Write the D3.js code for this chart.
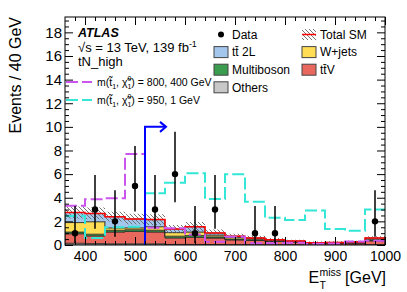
<!DOCTYPE html>
<html>
<head>
<meta charset="utf-8">
<script src="https://cdn.jsdelivr.net/npm/d3@7"></script>
<style>
    body { margin: 0; background: #fff; }
    svg { display: block; font-family: "Liberation Sans", Arial, Helvetica, sans-serif; }
</style>
</head>
<body>
<svg id="chart"></svg>
<script>
// Bin edges in ETmiss [GeV]
const binEdges = [360, 400, 440, 480, 520, 560, 600, 640, 680, 720, 760, 800, 840, 880, 920, 960, 1000];

// Background stack, bottom to top
const others     = [0.15, 0.12, 0.10, 0.10, 0.10, 0.05, 0.05, 0.04, 0.03, 0.03, 0.02, 0.02, 0.01, 0.01, 0.01, 0.03];
const ttV        = [0.80, 0.65, 1.00, 1.05, 1.00, 0.55, 0.60, 0.55, 0.40, 0.35, 0.28, 0.20, 0.12, 0.13, 0.15, 0.32];
const multiboson = [0.15, 0.15, 0.15, 0.15, 0.15, 0.15, 0.15, 0.10, 0.08, 0.07, 0.05, 0.04, 0.03, 0.03, 0.03, 0.07];
const wjets      = [0.80, 1.05, 0.20, 0.15, 0.30, 0.30, 0.30, 0.15, 0.12, 0.08, 0.05, 0.04, 0.02, 0.03, 0.03, 0.08];
const tt2L       = [0.85, 0.70, 0.95, 0.75, 0.60, 0.30, 0.45, 0.18, 0.12, 0.07, 0.05, 0.03, 0.02, 0.02, 0.03, 0.10];
const totalErr   = [0.50, 0.50, 0.42, 0.45, 0.45, 0.35, 0.40, 0.30, 0.20, 0.18, 0.15, 0.12, 0.10, 0.10, 0.10, 0.15];

// Signal points
const sig800 = [3.33, 3.87, 3.95, 7.70, 1.45, 1.42, 0.88, 0.28, 0.70, 0.14, 0.15, 0.20, 0.10, 0.12, 0.30, 0.35];
const sig950 = [2.45, 0.60, 1.50, 1.55, 4.38, 5.28, 6.07, 3.90, 5.99, 3.67, 2.30, 2.12, 2.92, 1.36, 1.20, 3.00];

// Data with asymmetric (Poisson) error bars
const dataCounts = [1, 3, 2, 5, 3, 6, 1, 3, 0, 1, 1, 0, 0, 0, 0, 2];
const dataLow    = [0.173, 1.367, 0.708, 2.840, 1.367, 3.620, 0.173, 1.367, 0, 0.173, 0.173, 0, 0, 0, 0, 0.708];
const dataHigh   = [3.300, 5.918, 4.638, 8.382, 5.918, 9.584, 3.300, 5.918, 0, 3.300, 3.300, 0, 0, 0, 0, 4.638];

// Axis ticks
const xMajor = [400, 500, 600, 700, 800, 900, 1000];
const xMinor = [380, 420, 440, 460, 480, 520, 540, 560, 580, 620, 640, 660, 680, 720, 740, 760, 780,
                820, 840, 860, 880, 920, 940, 960, 980];
const yMajor = [0, 2, 4, 6, 8, 10, 12, 14, 16, 18];
const yMinor = [0.5, 1, 1.5, 2.5, 3, 3.5, 4.5, 5, 5.5, 6.5, 7, 7.5, 8.5, 9, 9.5, 10.5, 11, 11.5,
                12.5, 13, 13.5, 14.5, 15, 15.5, 16.5, 17, 17.5, 18.5, 19];

// Cut position and arrow
const cutValue = 520;
const cutHeight = 10;
const cutArrowEnd = 562;

const colors = {
    others: "#c8c8c8",
    ttV: "#e8685e",
    multiboson: "#3a9c4e",
    wjets: "#ffdd55",
    tt2L: "#a3c6ec",
    sig800: "#cc55ee",
    sig950: "#33e6d6",
};

const width = 407;
const height = 292;
const margin = { top: 17, right: 22, bottom: 47, left: 65 };

const svg = d3.select("#chart").attr("width", width).attr("height", height);

const x = d3.scaleLinear().domain([360, 1000]).range([margin.left, width - margin.right]);
const y = d3.scaleLinear().domain([0, 19.3]).range([height - margin.bottom, margin.top]);

// hatch pattern for uncertainty
const defs = svg.append("defs");
defs.append("pattern")
    .attr("id", "hatch")
    .attr("patternUnits", "userSpaceOnUse")
    .attr("width", 4)
    .attr("height", 4)
    .append("path")
    .attr("d", "M-1,-1 L5,5 M3,-1 L5,1 M-1,3 L1,5")
    .attr("stroke", "#666")
    .attr("stroke-width", 0.9);

defs.append("clipPath").attr("id", "plotclip")
    .append("rect")
    .attr("x", margin.left).attr("y", margin.top)
    .attr("width", width - margin.left - margin.right)
    .attr("height", height - margin.top - margin.bottom);

// turn per-bin values into step points
function steps(lo, hi) {
    const pts = [];
    for (let i = 0; i < binEdges.length - 1; i++) {
        pts.push({ x: binEdges[i], lo: lo[i], hi: hi[i] });
        pts.push({ x: binEdges[i + 1], lo: lo[i], hi: hi[i] });
    }
    return pts;
}

const area = d3.area().x((d) => x(d.x)).y0((d) => y(d.lo)).y1((d) => y(d.hi));
const line = d3.line().x((d) => x(d.x)).y((d) => y(d.hi));

const plot = svg.append("g").attr("clip-path", "url(#plotclip)");

// Stack
const stackOrder = [
    { key: "others", values: others },
    { key: "ttV", values: ttV },
    { key: "multiboson", values: multiboson },
    { key: "wjets", values: wjets },
    { key: "tt2L", values: tt2L },
];
let base = binEdges.slice(1).map(() => 0);
stackOrder.forEach((s) => {
    const top = base.map((b, i) => b + s.values[i]);
    plot.append("path")
        .datum(steps(base, top))
        .attr("d", area)
        .attr("fill", colors[s.key])
        .attr("stroke", "#222")
        .attr("stroke-width", 0.7);
    base = top;
});
const total = base;

// uncertainty band
plot.append("path")
    .datum(steps(total.map((t, i) => Math.max(0, t - totalErr[i])), total.map((t, i) => t + totalErr[i])))
    .attr("d", area)
    .attr("fill", "url(#hatch)");

plot.append("path")
    .datum(steps(total, total))
    .attr("d", line)
    .attr("fill", "none")
    .attr("stroke", "#ff0000")
    .attr("stroke-width", 1.5);

// signals
[["sig800", sig800], ["sig950", sig950]].forEach(([key, vals]) => {
    plot.append("path")
        .datum(steps(vals, vals))
        .attr("d", line)
        .attr("fill", "none")
        .attr("stroke", colors[key])
        .attr("stroke-width", 2)
        .attr("stroke-dasharray", "12,4");
});

// data
const dataPts = dataCounts
    .map((n, i) => ({ x: (binEdges[i] + binEdges[i + 1]) / 2, n, lo: dataLow[i], hi: dataHigh[i] }))
    .filter((d) => d.n > 0);

plot.append("g").selectAll("line").data(dataPts).join("line")
    .attr("x1", (d) => x(d.x)).attr("x2", (d) => x(d.x))
    .attr("y1", (d) => y(d.lo)).attr("y2", (d) => y(d.hi))
    .attr("stroke", "#000")
    .attr("stroke-width", 1.5);

plot.append("g").selectAll("circle").data(dataPts).join("circle")
    .attr("cx", (d) => x(d.x)).attr("cy", (d) => y(d.n))
    .attr("r", 3.2)
    .attr("fill", "#000");

// cut arrow
svg.append("path")
    .attr("d", `M${x(cutValue)},${y(0)} L${x(cutValue)},${y(cutHeight)} L${x(cutArrowEnd)},${y(cutHeight)}`)
    .attr("fill", "none")
    .attr("stroke", "#0000ff")
    .attr("stroke-width", 2);
svg.append("path")
    .attr("d", `M${x(cutArrowEnd) - 6},${y(cutHeight) - 5} L${x(cutArrowEnd)},${y(cutHeight)} L${x(cutArrowEnd) - 6},${y(cutHeight) + 5}`)
    .attr("fill", "none")
    .attr("stroke", "#0000ff")
    .attr("stroke-width", 2);

// axes (ticks pointing inwards like ROOT)
const axisFont = (g, size) => g.call((g) => g.select(".domain").remove())
    .selectAll("text").attr("font-size", size).attr("font-family", "Liberation Sans, Arial, sans-serif").attr("fill", "#000");

const yBottom = height - margin.bottom;
const xRight = width - margin.right;

svg.append("g").attr("transform", `translate(0,${yBottom})`)
    .call(d3.axisBottom(x).tickValues(xMajor).tickSize(-8).tickPadding(6).tickFormat(d3.format("d")))
    .call((g) => axisFont(g, 14));
svg.append("g").attr("transform", `translate(0,${yBottom})`)
    .call(d3.axisBottom(x).tickValues(xMinor).tickSize(-4).tickFormat(""))
    .call((g) => g.select(".domain").remove());
svg.append("g").attr("transform", `translate(0,${margin.top})`)
    .call(d3.axisTop(x).tickValues(xMajor).tickSize(-8).tickFormat(""))
    .call((g) => g.select(".domain").remove());
svg.append("g").attr("transform", `translate(0,${margin.top})`)
    .call(d3.axisTop(x).tickValues(xMinor).tickSize(-4).tickFormat(""))
    .call((g) => g.select(".domain").remove());

svg.append("g").attr("transform", `translate(${margin.left},0)`)
    .call(d3.axisLeft(y).tickValues(yMajor).tickSize(-8).tickPadding(3).tickFormat(d3.format("d")))
    .call((g) => axisFont(g, 15));
svg.append("g").attr("transform", `translate(${margin.left},0)`)
    .call(d3.axisLeft(y).tickValues(yMinor).tickSize(-4).tickFormat(""))
    .call((g) => g.select(".domain").remove());
svg.append("g").attr("transform", `translate(${xRight},0)`)
    .call(d3.axisRight(y).tickValues(yMajor).tickSize(-8).tickFormat(""))
    .call((g) => g.select(".domain").remove());
svg.append("g").attr("transform", `translate(${xRight},0)`)
    .call(d3.axisRight(y).tickValues(yMinor).tickSize(-4).tickFormat(""))
    .call((g) => g.select(".domain").remove());

svg.selectAll(".tick line").attr("stroke", "#000");

svg.append("rect")
    .attr("x", margin.left).attr("y", margin.top)
    .attr("width", xRight - margin.left).attr("height", yBottom - margin.top)
    .attr("fill", "none").attr("stroke", "#000").attr("stroke-width", 1);

// axis titles
svg.append("text")
    .attr("transform", `translate(21,${margin.top}) rotate(-90)`)
    .attr("text-anchor", "end")
    .attr("font-size", 16)
    .text("Events / 40 GeV");

const xt = svg.append("g");
const gev = xt.append("text").attr("x", xRight + 1).attr("y", 283).attr("text-anchor", "end")
    .attr("font-size", 16).text("[GeV]");
const gevW = gev.node().getComputedTextLength();
const missT = xt.append("text").attr("font-size", 10.5).text("miss");
const missW = missT.node().getComputedTextLength();
const eX = xRight + 1 - gevW - 4 - missW - 11;
xt.append("text").attr("x", eX).attr("y", 283).attr("font-size", 16).text("E");
missT.attr("x", eX + 11).attr("y", 276);
xt.append("text").attr("x", eX + 11).attr("y", 289).attr("font-size", 10.5).text("T");

// labels top-left
svg.append("text").attr("x", 78).attr("y", 36.5)
    .attr("font-size", 12.5).attr("font-weight", "bold").attr("font-style", "italic").text("ATLAS");
const lumi = svg.append("text").attr("x", 78).attr("y", 51.5).attr("font-size", 13);
lumi.append("tspan").text("\u221As = 13 TeV, 139 fb");
lumi.append("tspan").attr("font-size", 9).attr("dy", -5).text("-1");
svg.append("text").attr("x", 78).attr("y", 66).attr("font-size", 13).text("tN_high");

// signal legend
const sigLegend = [
    { key: "sig800", masses: "800, 400 GeV", yPos: 82 },
    { key: "sig950", masses: "950, 1 GeV", yPos: 100 },
];
sigLegend.forEach((s) => {
    svg.append("line")
        .attr("x1", margin.left + 1).attr("x2", 92)
        .attr("y1", s.yPos).attr("y2", s.yPos)
        .attr("stroke", colors[s.key]).attr("stroke-width", 2)
        .attr("stroke-dasharray", "12,4");
    const t = svg.append("text").attr("x", 97).attr("y", s.yPos + 3.5).attr("font-size", 10.5);
    t.append("tspan").text("m(t\u0303");
    t.append("tspan").attr("font-size", 7).attr("dy", 3).text("1");
    t.append("tspan").attr("dy", -3).text(", \u03C7\u0303");
    t.append("tspan").attr("font-size", 7).attr("dy", 3).text("1");
    t.append("tspan").attr("font-size", 7).attr("dx", -3.9).attr("dy", -7.5).text("0");
    t.append("tspan").attr("dy", 4.5).text(") = " + s.masses);
});

// main legend
const legendRows = [
    { label: "tt\u0304 2L", key: "tt2L", col: 0, row: 1 },
    { label: "Multiboson", key: "multiboson", col: 0, row: 2 },
    { label: "Others", key: "others", col: 0, row: 3 },
    { label: "W+jets", key: "wjets", col: 1, row: 1 },
    { label: "tt\u0304V", key: "ttV", col: 1, row: 2 },
];
const colX = [214, 302];
const rowY = (r) => 34.5 + r * 17.6;

legendRows.forEach((d) => {
    svg.append("rect")
        .attr("x", colX[d.col]).attr("y", rowY(d.row) - 5.5)
        .attr("width", 14).attr("height", 11)
        .attr("fill", colors[d.key]).attr("stroke", "#444").attr("stroke-width", 1);
    svg.append("text").attr("x", colX[d.col] + 18).attr("y", rowY(d.row) + 4.3)
        .attr("font-size", 12).text(d.label);
});

svg.append("circle").attr("cx", colX[0] + 7).attr("cy", rowY(0)).attr("r", 3).attr("fill", "#000");
svg.append("text").attr("x", colX[0] + 18).attr("y", rowY(0) + 4.3).attr("font-size", 12).text("Data");

svg.append("rect")
    .attr("x", colX[1]).attr("y", rowY(0) - 5.5)
    .attr("width", 14).attr("height", 11)
    .attr("fill", "url(#hatch)");
svg.append("line")
    .attr("x1", colX[1]).attr("x2", colX[1] + 14)
    .attr("y1", rowY(0)).attr("y2", rowY(0))
    .attr("stroke", "#ff0000").attr("stroke-width", 1.5);
svg.append("text").attr("x", colX[1] + 18).attr("y", rowY(0) + 4.3).attr("font-size", 12).text("Total SM");
</script>
</body>
</html>
